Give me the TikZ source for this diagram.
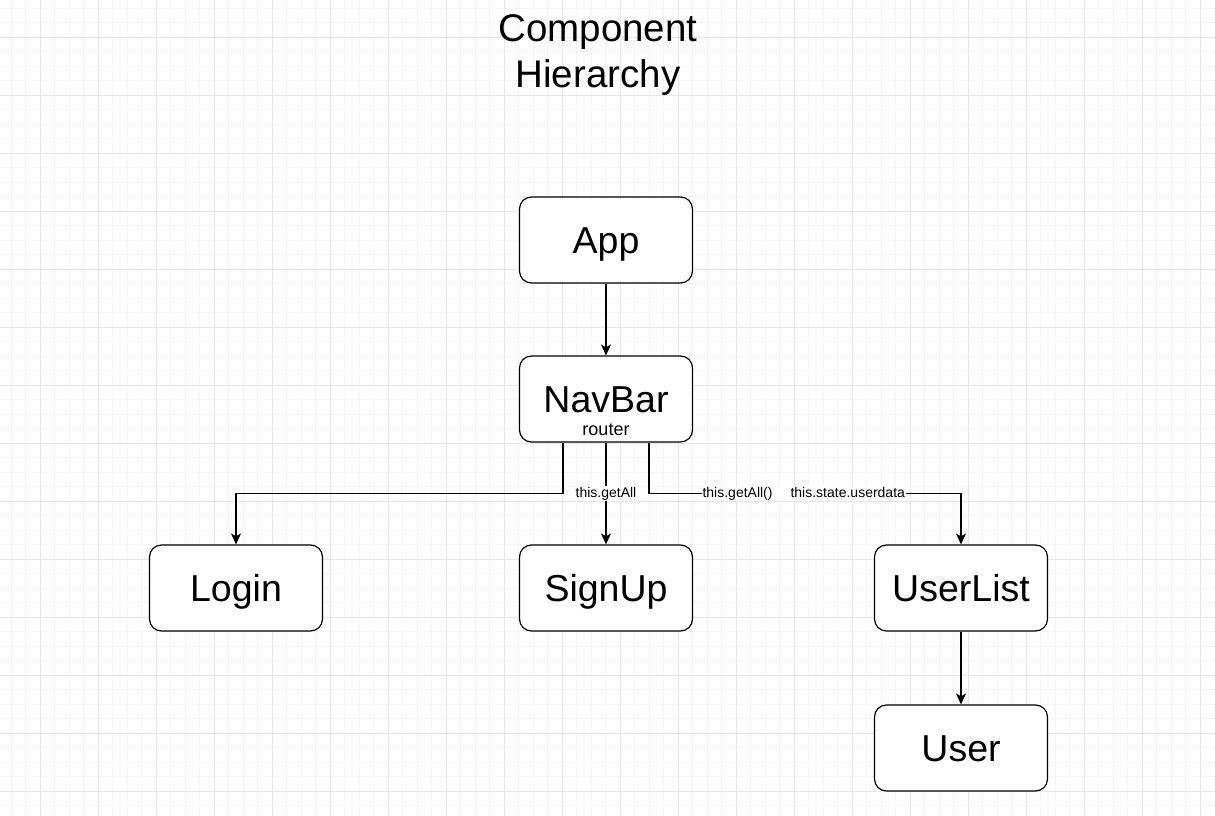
\documentclass[tikz,border=0pt]{standalone}
\usepackage{fontspec}
\setmainfont{Liberation Sans}
\usetikzlibrary{positioning,arrows.meta}

\begin{document}
\begin{tikzpicture}
  [x=1pt,y=-1pt,
   comp/.style={rectangle,rounded corners=12pt,draw=black,line width=1.2pt,fill=white,
     minimum width=173pt,minimum height=86pt,text height=27pt,text depth=0pt,
     font=\fontsize{37.5}{40}\selectfont},
   lbl/.style={fill=white,inner sep=1pt,font=\fontsize{14}{16}\selectfont},
   arr/.style={line width=1.2pt,-{Stealth[length=11pt,width=10pt,inset=3pt]}}]
  \useasboundingbox (0,0) rectangle (1215,816);
  % background grid
  \begin{scope}[shift={(40,37)}]
    \draw[black!4,line width=0.8pt,step=14.5pt] (-58,-58) grid (1218,812);
    \draw[black!9,line width=0.8pt,step=58pt] (-58,-58) grid (1218,812);
  \end{scope}

  \node[align=center,font=\fontsize{38.5}{46}\selectfont] (title) at (598,55) {Component\\Hierarchy};

  \node[comp] (app) at (606,240) {App};
  \node[comp] (navbar) at (606,399) {NavBar};
  \node[font=\fontsize{18}{20}\selectfont,inner sep=0pt] (router) at (606,430) {router};
  \node[comp] (login) at (236,588) {Login};
  \node[comp] (signup) at (606,588) {SignUp};
  \node[comp] (userlist) at (961,588) {UserList};
  \node[comp] (user) at (961,748) {User};

  \draw[arr] (app) -- (navbar);
  \draw[arr] ([xshift=-43pt]navbar.south) -- ++(0,51) -| (login);
  \draw[arr] (navbar) -- node[lbl] (getall) {this.getAll} (signup);
  \draw[arr] ([xshift=43pt]navbar.south) -- ++(0,51) -| node[lbl,pos=0.248] (calls)
    {this.getAll()\hspace{18pt}this.state.userdata} (userlist);
  \draw[arr] (userlist) -- (user);
\end{tikzpicture}
\end{document}
